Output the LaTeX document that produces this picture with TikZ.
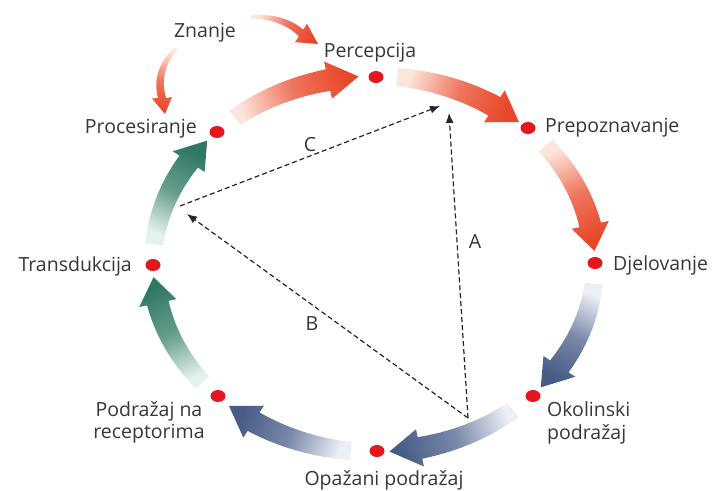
\documentclass[tikz,border=0pt]{standalone}
\usepackage{fontspec}
\setmainfont{Open Sans}
\usetikzlibrary{arrows.meta,shapes.geometric}
\definecolor{redH}{RGB}{232,70,40}
\definecolor{redT}{RGB}{252,230,220}
\definecolor{blueH}{RGB}{72,92,135}
\definecolor{blueT}{RGB}{236,239,246}
\definecolor{greenH}{RGB}{48,120,100}
\definecolor{greenT}{RGB}{228,242,237}
\definecolor{dotred}{RGB}{228,22,30}
\definecolor{txt}{RGB}{55,55,55}
\newcommand{\ecx}{374}
\newcommand{\ecy}{264}
\newcommand{\erx}{221}
\newcommand{\ery}{188}
\newcommand{\cycarrow}[4]{%
  \pgfmathsetmacro{\ta}{#1}%
  \pgfmathsetmacro{\tc}{#2}%
  \pgfmathsetmacro{\tb}{#2+8}%
  \pgfmathsetmacro{\ang}{atan2(\ery*(sin(\tc)-sin(\ta)),\erx*(cos(\tc)-cos(\ta)))-90}%
  \shade[top color=#4, bottom color=#3, middle color=#4!70!#3, shading angle=\ang]
    plot[domain=0:1, samples=30, variable=\s]
      ({\ecx+(\erx+9+2*\s)*cos(\ta+(\tb-\ta)*\s)},{\ecy-(\ery+9+2*\s)*sin(\ta+(\tb-\ta)*\s)})
    -- ({\ecx+(\erx+19)*cos(\tb)},{\ecy-(\ery+19)*sin(\tb)})
    -- ({\ecx+\erx*cos(\tc)},{\ecy-\ery*sin(\tc)})
    -- ({\ecx+(\erx-19)*cos(\tb)},{\ecy-(\ery-19)*sin(\tb)})
    -- plot[domain=0:1, samples=30, variable=\s]
      ({\ecx+(\erx-11+2*\s)*cos(\tb+(\ta-\tb)*\s)},{\ecy-(\ery-11+2*\s)*sin(\tb+(\ta-\tb)*\s)})
    -- cycle;
}
\tikzset{
  dot/.style={ellipse, fill=dotred, minimum width=15pt, minimum height=12pt, inner sep=0pt},
  lab/.style={text=txt, font=\fontsize{19.5}{22}\selectfont, inner sep=0pt},
  dline/.style={draw=black!85, line width=1.2pt, dash pattern=on 5pt off 3pt, -{Latex[length=10pt,width=8pt]}}
}
\begin{document}
\begin{tikzpicture}[x=1pt,y=-1pt]
\useasboundingbox (0,0) rectangle (720,490);
\fill[white] (0,0) rectangle (720,490);
% cycle arrows
\cycarrow{84}{49}{redT}{redH}
\cycarrow{39}{4}{redT}{redH}
\cycarrow{-6}{-41}{blueT}{blueH}
\cycarrow{-51}{-86}{blueT}{blueH}
\cycarrow{-96}{-131}{blueT}{blueH}
\cycarrow{-141}{-176}{greenT}{greenH}
\cycarrow{-186}{-221}{greenT}{greenH}
\cycarrow{129}{94}{redT}{redH}
% Znanje arrows
\shade[top color=redH, bottom color=redT, middle color=redH!70!redT, shading angle=-112]
  (251,15.5) .. controls (272,13) and (291,19) .. (303.2,29.6)
  -- (307,23.8) -- (318,44) -- (295,42.2) -- (298.8,36.4)
  .. controls (288,25) and (271,19) .. (251,18.5) -- cycle;
\shade[top color=redH, bottom color=redT, middle color=redH!70!redT, shading angle=-190]
  (174.5,48) .. controls (159,61) and (153,80) .. (158,98)
  -- (152,98.5) -- (165,114) -- (172,97) -- (166,98)
  .. controls (161,80) and (165,63) .. (177.5,50) -- cycle;
% dots
\node[dot] (perc) at (376,77) {};
\node[dot] (prep) at (528,128) {};
\node[dot] (djel) at (595,263) {};
\node[dot] (okol) at (533,396) {};
\node[dot] (opaz) at (377,451) {};
\node[dot] (podr) at (218,396) {};
\node[dot] (trans) at (153,265) {};
\node[dot] (proc) at (217,132) {};
% labels
\node[lab, anchor=base] (lznanje) at (205,37) {Znanje};
\node[lab, anchor=base] (lperc) at (370,57) {Percepcija};
\node[lab, anchor=base west] (lprep) at (545,132.5) {Prepoznavanje};
\node[lab, anchor=base west] (ldjel) at (613,270.5) {Djelovanje};
\node[lab, anchor=base west] (lokol) at (547,416.5) {Okolinski};
\node[lab, anchor=base west] (lokol2) at (547,439) {podražaj};
\node[lab, anchor=base] (lopaz) at (384,485) {Opažani podražaj};
\node[lab, anchor=base] (lpodr) at (149,416) {Podražaj na};
\node[lab, anchor=base] (lpodr2) at (149,438) {receptorima};
\node[lab, anchor=base east] (ltrans) at (132,271.5) {Transdukcija};
\node[lab, anchor=base east] (lproc) at (197,133.5) {Procesiranje};
% dashed triangle
\coordinate (L) at (180,206);
\coordinate (V) at (468,418);
\coordinate (Ct) at (440,106);
\coordinate (At) at (449,113);
\coordinate (Bt) at (187,214);
\draw[dline] (V) -- (At);
\draw[dline] (V) -- (Bt);
\draw[dline] (L) -- (Ct);
\node[lab, anchor=base] (la) at (475,248.5) {A};
\node[lab, anchor=base] (lb) at (312,330) {B};
\node[lab, anchor=base] (lc) at (310,151.5) {C};
\end{tikzpicture}
\end{document}
